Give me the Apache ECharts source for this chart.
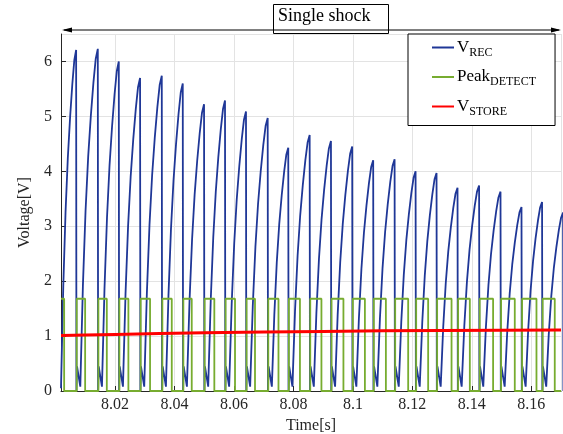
<!DOCTYPE html>
<html><head><meta charset="utf-8">
<script src="https://cdn.jsdelivr.net/npm/echarts@6/dist/echarts.min.js"></script>
<style>html,body{margin:0;padding:0;background:#fff}#c{width:563px;height:434px}</style>
</head><body><div id="c"></div>
<script>
// ---- data ----
const xRange = [8.0018, 8.17];
const yRange = [0, 6.5];
// V_REC peaks (time s, voltage V); the last one lies just beyond the visible range
const peakTimes = [8.00689, 8.01418, 8.02124, 8.02840, 8.03570, 8.04276, 8.04992, 8.05697,
  8.06403, 8.07133, 8.07825, 8.08545, 8.09261, 8.09976, 8.10682, 8.11402, 8.12108, 8.12813,
  8.13519, 8.14245, 8.14965, 8.15671, 8.16363, 8.17070];
const peakValues = [6.21, 6.23, 6.00, 5.70, 5.74, 5.60, 5.22, 5.29, 5.09, 4.97, 4.43, 4.66,
  4.55, 4.45, 4.20, 4.22, 4.00, 3.97, 3.70, 3.74, 3.63, 3.35, 3.44, 3.25];
// shape of one V_REC cycle
const riseTimeFrac = [0, 0.15, 0.3, 0.45, 0.6, 0.75, 0.88, 1];
const riseLevelFrac = [0, 0.3, 0.52, 0.68, 0.8, 0.9, 0.97, 1];
const dropOffsets = [0.0001, 0.0003, 0.0014];
const dropLevels = [0.0, 0.45, 0.08];
const firstStart = [8.0018, 0.05];
// Peak_DETECT square wave
const detectHigh = 1.68;
const detectRiseDelay = 0.0002;
const detectFallTimes = [8.00286, 8.00992, 8.01721, 8.02447, 8.03176, 8.03906, 8.04578, 8.05338,
  8.06034, 8.06706, 8.07496, 8.08218, 8.08941, 8.09681, 8.10403, 8.11109, 8.11859, 8.12531,
  8.13318, 8.13933, 8.14716, 8.15445, 8.16175, 8.16790];
// V_STORE
const storeTimes = [8.0018, 8.01, 8.02, 8.035, 8.05, 8.07, 8.09, 8.11, 8.13, 8.15, 8.17];
const storeValues = [1.01, 1.02, 1.03, 1.045, 1.06, 1.075, 1.085, 1.095, 1.10, 1.105, 1.11];

// ---- build series data ----
const vRec = [];
let start = firstStart.slice();
for (let i = 0; i < peakTimes.length; i++) {
  const t0 = start[0], v0 = start[1], tp = peakTimes[i], P = peakValues[i];
  for (let k = 0; k < riseTimeFrac.length; k++) {
    vRec.push([t0 + riseTimeFrac[k] * (tp - t0), v0 + riseLevelFrac[k] * (P - v0)]);
  }
  for (let j = 0; j < dropOffsets.length; j++) vRec.push([tp + dropOffsets[j], dropLevels[j]]);
  start = [tp + dropOffsets[dropOffsets.length - 1], dropLevels[dropLevels.length - 1]];
}
const detect = [[xRange[0], detectHigh], [detectFallTimes[0], detectHigh], [detectFallTimes[0], 0]];
for (let i = 0; i < peakTimes.length - 1; i++) {
  const r = peakTimes[i] + detectRiseDelay, f = detectFallTimes[i + 1];
  detect.push([r, 0], [r, detectHigh], [f, detectHigh], [f, 0]);
}
detect.push([xRange[1], 0]);
const store = storeTimes.map((t, i) => [t, storeValues[i]]);

const FONT = 'Liberation Serif';
const chart = echarts.init(document.getElementById('c'), null, {renderer: 'canvas'});
chart.setOption({
  animation: false,
  backgroundColor: '#fff',
  grid: {left: 61, right: 2, top: 34, bottom: 43, containLabel: false, outerBoundsMode: 'none'},
  xAxis: {
    type: 'value', min: xRange[0], max: xRange[1], splitNumber: 8,
    name: 'Time[s]', nameLocation: 'middle', nameGap: 22,
    nameTextStyle: {fontFamily: FONT, fontSize: 16, color: '#262626'},
    axisLine: {lineStyle: {color: '#262626', width: 1}},
    axisTick: {inside: true, length: 5, lineStyle: {color: '#262626'}},
    axisLabel: {fontFamily: FONT, fontSize: 16, color: '#262626', margin: 6,
      showMinLabel: false, showMaxLabel: false,
      formatter: v => String(parseFloat(v.toFixed(2)))},
    splitLine: {show: true, lineStyle: {color: '#e3e3e3', width: 1}}
  },
  yAxis: {
    type: 'value', min: yRange[0], max: yRange[1], interval: 1,
    name: 'Voltage[V]', nameLocation: 'middle', nameGap: 24,
    nameTextStyle: {fontFamily: FONT, fontSize: 16, color: '#262626'},
    axisLine: {show: true, lineStyle: {color: '#262626', width: 1}},
    axisTick: {show: true, inside: true, length: 5, lineStyle: {color: '#262626'}},
    axisLabel: {fontFamily: FONT, fontSize: 16, color: '#262626', margin: 9, showMaxLabel: false},
    splitLine: {show: true, lineStyle: {color: '#e3e3e3', width: 1}}
  },
  legend: {
    orient: 'vertical', left: 408, top: 34,
    padding: [5, 19, 8, 24], itemGap: 10,
    itemWidth: 22, itemHeight: 2, icon: 'rect',
    borderColor: '#000', borderWidth: 1, backgroundColor: '#fff',
    data: ['V_REC', 'Peak_DETECT', 'V_STORE'],
    formatter: n => { const p = n.split('_'); return '{m|' + p[0] + '}{s|' + p[1] + '}'; },
    textStyle: {
      fontFamily: FONT, color: '#000', padding: [0, 0, 0, -2],
      rich: {
        m: {fontFamily: FONT, fontSize: 17, color: '#000', lineHeight: 22, verticalAlign: 'middle'},
        s: {fontFamily: FONT, fontSize: 12, color: '#000', lineHeight: 22, verticalAlign: 'bottom'}
      }
    }
  },
  series: [
    {name: 'V_REC', type: 'line', data: vRec, showSymbol: false, symbol: 'none', clip: true,
      lineStyle: {color: '#1f3797', width: 1.8}, itemStyle: {color: '#1f3797'}},
    {name: 'Peak_DETECT', type: 'line', data: detect, showSymbol: false, symbol: 'none', clip: true,
      lineStyle: {color: '#77ac30', width: 1.8}, itemStyle: {color: '#77ac30'}},
    {name: 'V_STORE', type: 'line', data: store, showSymbol: false, symbol: 'none', clip: true,
      lineStyle: {color: '#ff0000', width: 3}, itemStyle: {color: '#ff0000'}}
  ],
  graphic: [
    {type: 'line', shape: {x1: 64, y1: 30, x2: 559, y2: 30}, style: {stroke: '#000', lineWidth: 1}, z: 10},
    {type: 'polygon', shape: {points: [[62, 30], [72, 27.5], [72, 32.5]]}, style: {fill: '#000'}, z: 10},
    {type: 'polygon', shape: {points: [[561, 30], [551, 27.5], [551, 32.5]]}, style: {fill: '#000'}, z: 10},
    {type: 'rect', shape: {x: 273.5, y: 4.5, width: 115, height: 29}, style: {fill: 'none', stroke: '#000', lineWidth: 1}, z: 10},
    {type: 'text', left: 278, top: 7, style: {text: 'Single shock', font: '18px "Liberation Serif"', fill: '#000'}, z: 10}
  ]
});
</script></body></html>
